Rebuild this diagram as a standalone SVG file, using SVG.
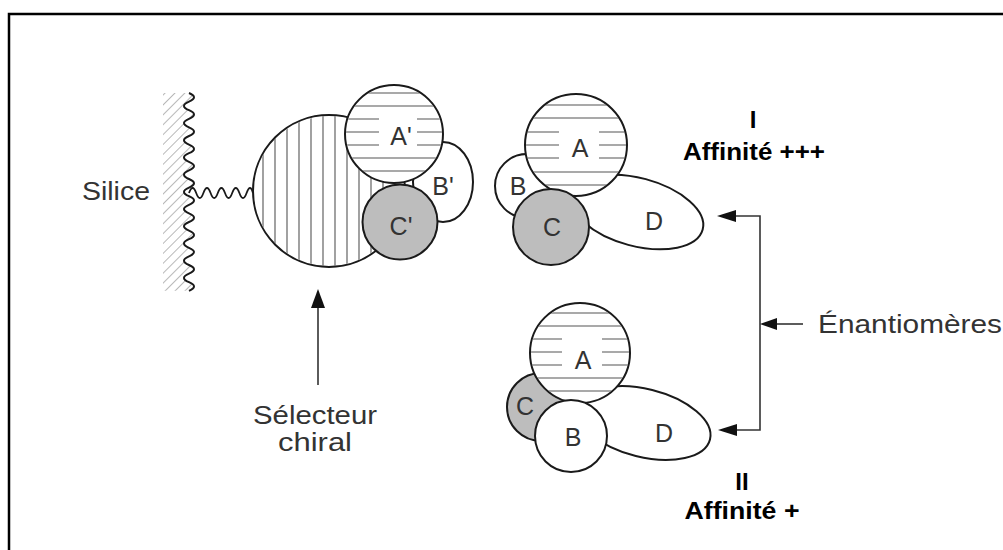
<svg xmlns="http://www.w3.org/2000/svg" width="1003" height="550" viewBox="0 0 1003 550">
<style>
.ol{fill:#fff;stroke:#1a1a1a;stroke-width:2}
.gr{fill:#bdbdbd;stroke:#1a1a1a;stroke-width:2}
.h{stroke:#555;stroke-width:1.1}
.lbl{font-family:'Liberation Sans',Arial,sans-serif;font-size:25px;fill:#333;text-anchor:middle}
.bt{font-family:'Liberation Sans',Arial,sans-serif;font-size:24px;font-weight:bold;fill:#000;text-anchor:middle}
.ln{stroke:#333;stroke-width:1.6;fill:none}
.ah{fill:#111}
</style>
<defs>
<pattern id="diag" width="7" height="7" patternUnits="userSpaceOnUse" patternTransform="rotate(45)">
<line x1="0" y1="0" x2="0" y2="7" stroke="#8a8a8a" stroke-width="1.2"/>
</pattern>
<clipPath id="cBig"><circle cx="329" cy="191" r="75"/></clipPath>
<clipPath id="cAp"><circle cx="394" cy="134" r="48"/></clipPath>
<clipPath id="cA1"><circle cx="576" cy="145" r="50"/></clipPath>
<clipPath id="cA2"><circle cx="580" cy="353" r="49"/></clipPath>
</defs>
<rect width="1003" height="550" fill="#fff"/>
<rect x="9" y="14" width="1010" height="560" fill="none" stroke="#000" stroke-width="2.5"/>

<g id="silice">
<path d="M163,93 L189,93 q10,4.3 0,8.6 t0,8.6 t0,8.6 t0,8.6 t0,8.6 t0,8.6 t0,8.6 t0,8.6 t0,8.6 t0,8.6 t0,8.6 t0,8.6 t0,8.6 t0,8.6 t0,8.6 t0,8.6 t0,8.6 t0,8.6 t0,8.6 t0,8.6 t0,8.6 t0,8.6 t0,8.6 L163,290.8 Z" fill="url(#diag)" stroke="none"/>
<path d="M189,93 q10,4.3 0,8.6 t0,8.6 t0,8.6 t0,8.6 t0,8.6 t0,8.6 t0,8.6 t0,8.6 t0,8.6 t0,8.6 t0,8.6 t0,8.6 t0,8.6 t0,8.6 t0,8.6 t0,8.6 t0,8.6 t0,8.6 t0,8.6 t0,8.6 t0,8.6 t0,8.6 t0,8.6" fill="none" stroke="#1a1a1a" stroke-width="2"/>
<text class="lbl" x="82" y="200" style="text-anchor:start" textLength="68" lengthAdjust="spacingAndGlyphs">Silice</text>
</g>

<g id="linker">
<path d="M189,193 q3.6,-10 7.2,0 t7.2,0 t7.2,0 t7.2,0 t7.2,0 t7.2,0 t7.2,0 t7.2,0 t6.4,0" fill="none" stroke="#1a1a1a" stroke-width="1.8"/>
</g>

<g id="selecteur">
<circle class="ol" cx="329" cy="191" r="76"/>
<g clip-path="url(#cBig)" class="h">
<line x1="263" y1="110" x2="263" y2="272"/><line x1="275" y1="110" x2="275" y2="272"/>
<line x1="287" y1="110" x2="287" y2="272"/><line x1="299" y1="110" x2="299" y2="272"/>
<line x1="311" y1="110" x2="311" y2="272"/><line x1="323" y1="110" x2="323" y2="272"/>
<line x1="335" y1="110" x2="335" y2="272"/><line x1="347" y1="110" x2="347" y2="272"/>
<line x1="359" y1="110" x2="359" y2="272"/><line x1="371" y1="110" x2="371" y2="272"/>
<line x1="383" y1="110" x2="383" y2="272"/><line x1="395" y1="110" x2="395" y2="272"/>
</g>
<ellipse class="ol" cx="443" cy="182" rx="30" ry="40"/>
<circle class="ol" cx="394" cy="134" r="49"/>
<g clip-path="url(#cAp)" class="h">
<line x1="340" y1="93" x2="450" y2="93"/><line x1="340" y1="106" x2="450" y2="106"/>
<line x1="340" y1="119" x2="450" y2="119"/><line x1="340" y1="132" x2="450" y2="132"/>
<line x1="340" y1="145" x2="450" y2="145"/><line x1="340" y1="158" x2="450" y2="158"/>
<line x1="340" y1="171" x2="450" y2="171"/>
</g>
<rect x="379" y="113" width="38" height="37" fill="#fff"/>
<circle class="gr" cx="400" cy="222" r="37.5"/>
<text class="lbl" x="401" y="145">A'</text>
<text class="lbl" x="443" y="195">B'</text>
<text class="lbl" x="401" y="235">C'</text>
</g>

<g id="enantiomere-I">
<ellipse class="ol" cx="637" cy="212" rx="68" ry="34" transform="rotate(15 637 212)"/>
<circle class="ol" cx="527" cy="186" r="32"/>
<circle class="ol" cx="576" cy="145" r="51"/>
<g clip-path="url(#cA1)" class="h">
<line x1="520" y1="105" x2="630" y2="105"/><line x1="520" y1="118" x2="630" y2="118"/>
<line x1="520" y1="132" x2="630" y2="132"/><line x1="520" y1="145" x2="630" y2="145"/>
<line x1="520" y1="158" x2="630" y2="158"/><line x1="520" y1="172" x2="630" y2="172"/>
<line x1="520" y1="185" x2="630" y2="185"/>
</g>
<rect x="559" y="126" width="40" height="37" fill="#fff"/>
<circle class="gr" cx="551" cy="227" r="38"/>
<text class="lbl" x="580" y="157">A</text>
<text class="lbl" x="518" y="195">B</text>
<text class="lbl" x="552" y="236">C</text>
<text class="lbl" x="654" y="230">D</text>
<text class="bt" x="753" y="128">I</text>
<text class="bt" x="754" y="160" textLength="142" lengthAdjust="spacingAndGlyphs">Affinité +++</text>
</g>

<g id="enantiomere-II">
<ellipse class="ol" cx="644" cy="423" rx="68" ry="34" transform="rotate(14 644 423)"/>
<circle class="gr" cx="541" cy="407" r="34"/>
<circle class="ol" cx="580" cy="353" r="50"/>
<g clip-path="url(#cA2)" class="h">
<line x1="525" y1="313" x2="635" y2="313"/><line x1="525" y1="326" x2="635" y2="326"/>
<line x1="525" y1="339" x2="635" y2="339"/><line x1="525" y1="352" x2="635" y2="352"/>
<line x1="525" y1="365" x2="635" y2="365"/><line x1="525" y1="378" x2="635" y2="378"/>
<line x1="525" y1="391" x2="635" y2="391"/>
</g>
<rect x="562" y="334" width="40" height="37" fill="#fff"/>
<circle class="ol" cx="571" cy="436" r="36"/>
<text class="lbl" x="583" y="369">A</text>
<text class="lbl" x="525" y="415">C</text>
<text class="lbl" x="573" y="446">B</text>
<text class="lbl" x="664" y="442">D</text>
<text class="bt" x="742" y="490">II</text>
<text class="bt" x="742" y="519" textLength="115" lengthAdjust="spacingAndGlyphs">Affinité +</text>
</g>

<g id="connectors">
<line class="ln" x1="318" y1="306" x2="318" y2="385"/>
<polygon class="ah" points="318,289 311,308 325,308"/>
<polyline class="ln" points="734,216 760,216 760,430 735,430"/>
<polygon class="ah" points="717,216 736,210 736,222"/>
<polygon class="ah" points="718,430 737,424 737,436"/>
<line class="ln" x1="774" y1="324" x2="803" y2="324"/>
<polygon class="ah" points="760,324 777,318 777,330"/>
</g>

<g id="labels">
<text class="lbl" x="818" y="333" style="text-anchor:start" textLength="184" lengthAdjust="spacingAndGlyphs">Énantiomères</text>
<text class="lbl" x="315" y="424" textLength="124" lengthAdjust="spacingAndGlyphs">Sélecteur</text>
<text class="lbl" x="315" y="451" textLength="74" lengthAdjust="spacingAndGlyphs">chiral</text>
</g>
</svg>
